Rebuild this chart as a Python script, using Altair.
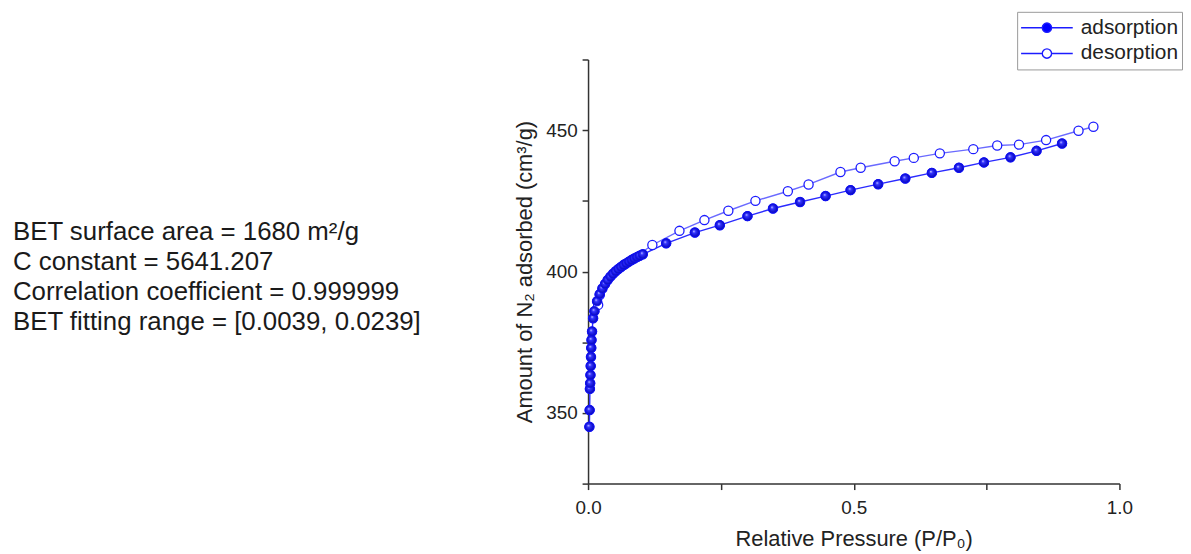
import altair as alt
import pandas as pd

# ---------------- data ----------------
ads_p = [0.0025, 0.0030, 0.0035, 0.0040, 0.0045, 0.0050, 0.0055, 0.0060, 0.0065, 0.0075, 0.0095,
         0.012, 0.017, 0.022, 0.027, 0.032, 0.037, 0.042, 0.047, 0.052, 0.057, 0.062, 0.067,
         0.072, 0.077, 0.082, 0.087, 0.092, 0.097, 0.103,
         0.147, 0.201, 0.248, 0.300, 0.348, 0.399, 0.447, 0.494, 0.546, 0.597, 0.647, 0.698,
         0.745, 0.795, 0.844, 0.892]
ads_v = [345.1, 351.0, 358.5, 360.5, 363.4, 366.6, 369.8, 373.0, 375.8, 378.8, 383.5,
         386.0, 389.5, 392.0, 394.0, 395.6, 397.0, 398.2, 399.2, 400.1, 400.9, 401.6, 402.3,
         402.9, 403.5, 404.1, 404.6, 405.1, 405.6, 406.1,
         410.0, 413.8, 416.4, 419.6, 422.3, 424.6, 426.7, 428.8, 430.9, 432.9, 434.9, 436.7,
         438.6, 440.4, 442.7, 445.3]

des_p = [0.951, 0.923, 0.862, 0.811, 0.770, 0.725, 0.662, 0.613, 0.577, 0.513, 0.475, 0.415,
         0.376, 0.315, 0.264, 0.219, 0.172, 0.121, 0.069, 0.022, 0.019]
des_v = [451.2, 449.8, 446.5, 444.9, 444.6, 443.3, 441.8, 440.2, 439.0, 436.7, 435.2, 430.8,
         428.4, 425.0, 421.5, 418.2, 414.4, 409.4, 402.6, 391.7, 388.2]

series_names = ["adsorption", "desorption"]
x_ticks = [0, 0.25, 0.5, 0.75, 1.0]
y_ticks = [325, 350, 375, 400, 425, 450, 475]

info_lines = [
    "BET surface area = 1680 m²/g",
    "C constant = 5641.207",
    "Correlation coefficient = 0.999999",
    "BET fitting range = [0.0039, 0.0239]",
]

x_title = "Relative Pressure (P/P₀)"
y_title = "Amount of N₂ adsorbed (cm³/g)"

# ---------------- table ----------------
df = pd.concat([
    pd.DataFrame({"p": ads_p, "v": ads_v, "series": series_names[0]}),
    pd.DataFrame({"p": des_p, "v": des_v, "series": series_names[1]}),
], ignore_index=True)

FONT = "Liberation Sans"
BLUE = "#1c1cff"

legend_path = ("M-1,0L-0.18,0M0.18,0L1,0"
               "M0.18,0A0.18,0.18,0,1,1,-0.18,0A0.18,0.18,0,1,1,0.18,0Z")

x_enc = alt.X("p:Q",
              scale=alt.Scale(domain=[0, 1], nice=False, zero=False),
              axis=alt.Axis(title=x_title, values=x_ticks,
                            labelExpr="(datum.value == 0 || datum.value == 0.5 || datum.value == 1) ? format(datum.value, '.1f') : ''",
                            labelFlush=False, labelOverlap=False, labelPadding=9,
                            titlePadding=11))
y_enc = alt.Y("v:Q",
              scale=alt.Scale(domain=[325, 475], nice=False, zero=False),
              axis=alt.Axis(title=y_title, values=y_ticks,
                            labelExpr="(datum.value % 50 == 0) ? datum.label : ''",
                            labelOverlap=False, labelPadding=5, titlePadding=9))

base = alt.Chart(df)

line_ads = base.transform_filter(alt.datum.series == series_names[0]).mark_line(
    strokeWidth=1.4, color="#2a2aff").encode(x=x_enc, y=y_enc)
line_des = base.transform_filter(alt.datum.series == series_names[1]).mark_line(
    strokeWidth=1.4, color="#6a6aff").encode(x=x_enc, y=y_enc)

points = base.mark_point(shape="circle", size=85, strokeWidth=1.3, opacity=1, stroke=BLUE).encode(
    x=x_enc, y=y_enc,
    fill=alt.Fill("series:N",
                  scale=alt.Scale(domain=series_names, range=["#0000ff", "#ffffff"]),
                  legend=alt.Legend(orient="none", legendX=432, legendY=-48, title=None,
                                    symbolType=legend_path, symbolSize=2704,
                                    symbolStrokeWidth=1.4, symbolStrokeColor=BLUE,
                                    labelFontSize=21, labelFont=FONT, labelColor="#222",
                                    labelOffset=7, padding=3, rowPadding=0, clipHeight=26,
                                    strokeColor="#999999", fillColor="white", cornerRadius=0)),
)

sphere = {"gradient": "radial", "x1": 0.38, "y1": 0.35, "r1": 0.0,
          "x2": 0.5, "y2": 0.5, "r2": 0.55,
          "stops": [{"offset": 0.0, "color": "#d8d8ff"},
                    {"offset": 0.3, "color": "#3333ff"},
                    {"offset": 1.0, "color": "#0000b0"}]}

balls = base.transform_filter(alt.datum.series == series_names[0]).mark_point(
    shape="circle", size=85, filled=True, fill=sphere, stroke="#1010ee",
    strokeWidth=1, opacity=1).encode(x=x_enc, y=y_enc)

info = alt.Chart(pd.DataFrame({"t": ["\n".join(info_lines)]})).mark_text(
    align="left", baseline="alphabetic", lineBreak="\n", lineHeight=30,
    fontSize=26, font=FONT, color="#1a1a1a",
).encode(text="t:N", x=alt.value(-579), y=alt.value(182))

chart = alt.layer(line_ads, line_des, points, balls, info).properties(
    width=535, height=427,
    autosize=alt.AutoSizeParams(type="none"),
    padding={"left": 584, "top": 50, "right": 64, "bottom": 66},
).configure(font=FONT).configure_view(stroke=None).configure_axis(
    grid=False,
    domainColor="#333333", domainWidth=1.5,
    tickColor="#333333", tickWidth=1.5, tickSize=6,
    labelFont=FONT, labelFontSize=19, labelColor="#222222",
    titleFont=FONT, titleFontSize=22, titleColor="#222222", titleFontWeight="normal",
)

chart.save("out.html", embed_options={"renderer": "svg", "actions": False})
